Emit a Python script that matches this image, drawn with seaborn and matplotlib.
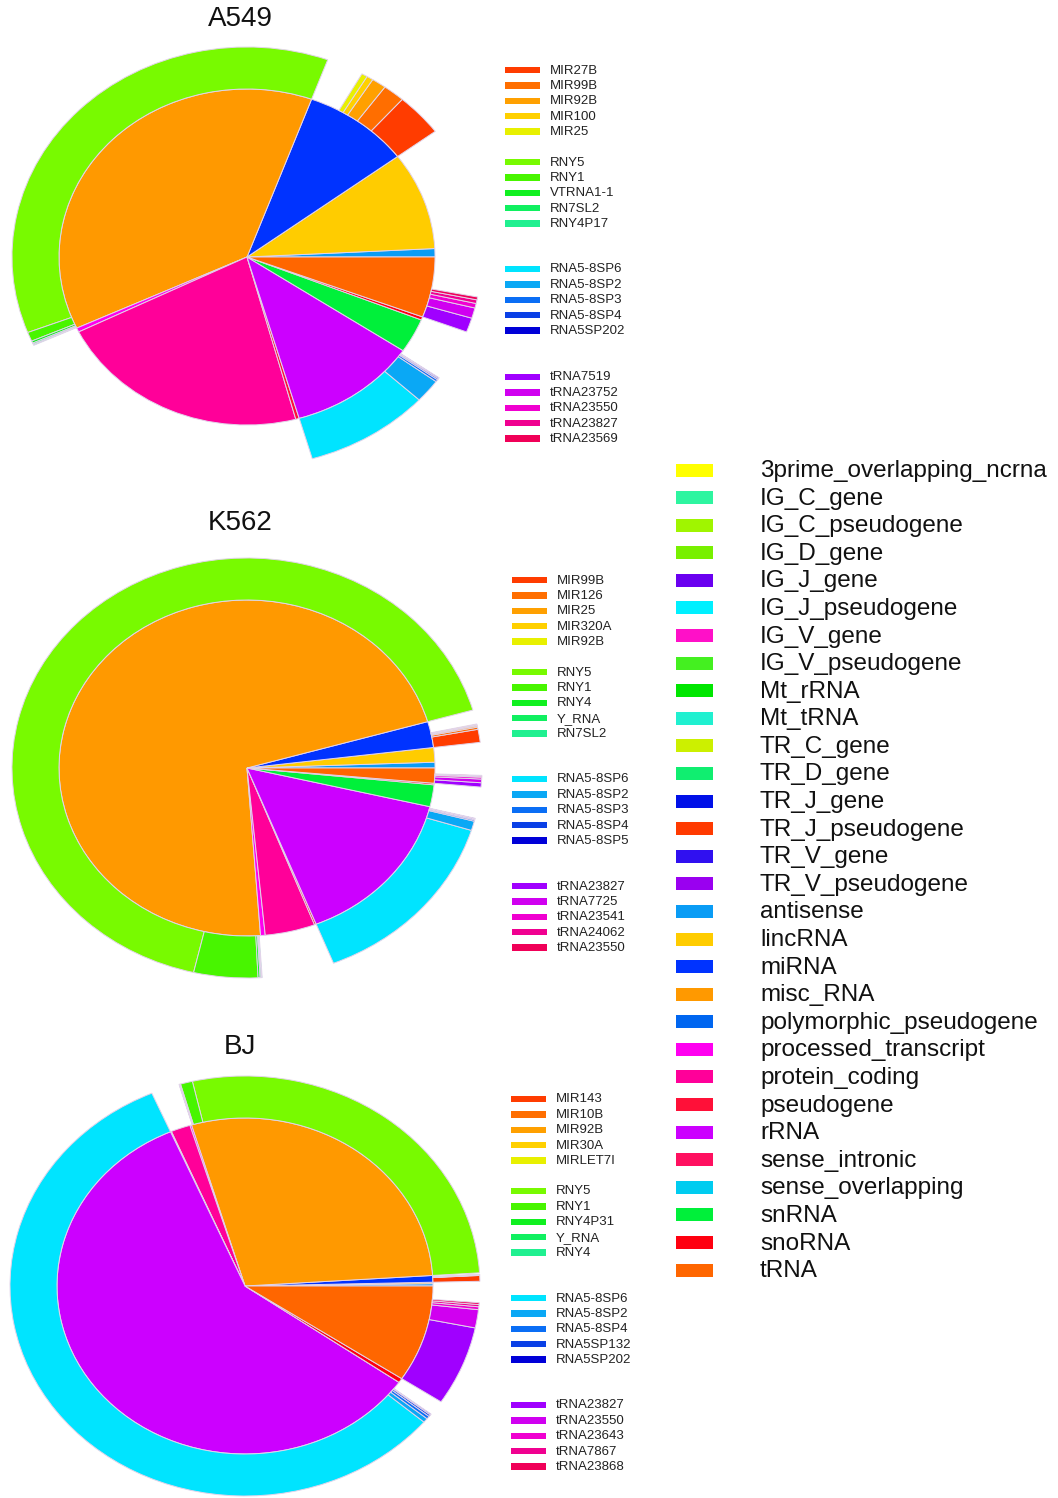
import matplotlib
matplotlib.use("Agg")
import matplotlib.pyplot as plt
from matplotlib.patches import Rectangle
import seaborn as sns

sns.set_theme(style="white")
plt.rcParams["font.family"] = ["Liberation Sans", "DejaVu Sans"]

# ---------------------------------------------------------------- biotypes
biotypes = [
    "3prime_overlapping_ncrna", "IG_C_gene", "IG_C_pseudogene", "IG_D_gene",
    "IG_J_gene", "IG_J_pseudogene", "IG_V_gene", "IG_V_pseudogene",
    "Mt_rRNA", "Mt_tRNA", "TR_C_gene", "TR_D_gene", "TR_J_gene",
    "TR_J_pseudogene", "TR_V_gene", "TR_V_pseudogene", "antisense",
    "lincRNA", "miRNA", "misc_RNA", "polymorphic_pseudogene",
    "processed_transcript", "protein_coding", "pseudogene", "rRNA",
    "sense_intronic", "sense_overlapping", "snRNA", "snoRNA", "tRNA",
]
biotype_colors = [
    "#ffff00", "#2ef5a0", "#a0f500", "#78f000", "#6a00f0", "#00f0ff",
    "#ff10c8", "#44f020", "#00e600", "#20f0d0", "#ccf000", "#10ee70",
    "#0010e8", "#ff3a00", "#3010f0", "#9a00f0", "#0a9cf5", "#ffcc00",
    "#0033ff", "#ff9900", "#0066f0", "#ff00f0", "#ff0099", "#ff1038",
    "#cc00ff", "#ff1060", "#00ccf0", "#00f03a", "#ff0010", "#ff6600",
]
palette = dict(zip(biotypes, sns.color_palette(biotype_colors)))

# biotypes present in the libraries (inner pie, counter-clockwise from 0°)
pie_biotypes = ["antisense", "lincRNA", "miRNA", "misc_RNA",
                "processed_transcript", "protein_coding", "pseudogene",
                "rRNA", "snRNA", "snoRNA", "tRNA"]

# % of reads per biotype
a549_pct = [0.8, 9.4, 9.2, 37.5, 0.4, 21.8, 0.3, 11.1, 3.3, 0.3, 5.8]
k562_pct = [0.55, 1.4, 2.5, 71.7, 0.4, 4.3, 0.15, 15.3, 2.1, 0.15, 1.45]
bj_pct = [0.22, 0.14, 0.64, 28.6, 0.14, 1.67, 0.08, 58.8, 0.0, 0.42, 9.3]

# top-5 transcripts of the expanded biotypes (% of all reads)
a549_mirna = ["MIR27B", "MIR99B", "MIR92B", "MIR100", "MIR25"]
a549_mirna_pct = [3.3, 1.5, 1.0, 0.45, 0.4]
a549_misc = ["RNY5", "RNY1", "VTRNA1-1", "RN7SL2", "RNY4P17"]
a549_misc_pct = [36.4, 0.7, 0.17, 0.1, 0.08]
a549_rrna = ["RNA5-8SP6", "RNA5-8SP2", "RNA5-8SP3", "RNA5-8SP4", "RNA5SP202"]
a549_rrna_pct = [8.6, 1.8, 0.17, 0.1, 0.08]
a549_trna = ["tRNA7519", "tRNA23752", "tRNA23550", "tRNA23827", "tRNA23569"]
a549_trna_pct = [1.1, 0.8, 0.35, 0.28, 0.22]

k562_mirna = ["MIR99B", "MIR126", "MIR25", "MIR320A", "MIR92B"]
k562_mirna_pct = [1.0, 0.17, 0.1, 0.08, 0.06]
k562_misc = ["RNY5", "RNY1", "RNY4", "Y_RNA", "RN7SL2"]
k562_misc_pct = [66.9, 4.4, 0.14, 0.08, 0.06]
k562_rrna = ["RNA5-8SP6", "RNA5-8SP2", "RNA5-8SP3", "RNA5-8SP4", "RNA5-8SP5"]
k562_rrna_pct = [14.2, 0.72, 0.1, 0.08, 0.05]
k562_trna = ["tRNA23827", "tRNA7725", "tRNA23541", "tRNA24062", "tRNA23550"]
k562_trna_pct = [0.33, 0.28, 0.14, 0.08, 0.06]

bj_mirna = ["MIR143", "MIR10B", "MIR92B", "MIR30A", "MIRLET7I"]
bj_mirna_pct = [0.44, 0.03, 0.02, 0.02, 0.01]
bj_misc = ["RNY5", "RNY1", "RNY4P31", "Y_RNA", "RNY4"]
bj_misc_pct = [27.6, 0.83, 0.05, 0.03, 0.02]
bj_rrna = ["RNA5-8SP6", "RNA5-8SP2", "RNA5-8SP4", "RNA5SP132", "RNA5SP202"]
bj_rrna_pct = [57.3, 0.33, 0.22, 0.14, 0.08]
bj_trna = ["tRNA23827", "tRNA23550", "tRNA23643", "tRNA7867", "tRNA23868"]
bj_trna_pct = [6.1, 1.4, 0.22, 0.17, 0.14]

# shades for the expanded biotypes
mirna_shades = ["#ff3c00", "#ff6e00", "#ffa000", "#ffd000", "#e8f000"]
misc_shades = ["#78fa00", "#48f500", "#10f020", "#10f060", "#20f090"]
rrna_shades = ["#00e4ff", "#0aa8f5", "#0a6ef5", "#0a40e6", "#0000d8"]
trna_shades = ["#a000ff", "#d000f0", "#f000d0", "#f00090", "#f00058"]

cell_lines = [
    ("A549", a549_pct,
     [(a549_mirna, a549_mirna_pct), (a549_misc, a549_misc_pct),
      (a549_rrna, a549_rrna_pct), (a549_trna, a549_trna_pct)]),
    ("K562", k562_pct,
     [(k562_mirna, k562_mirna_pct), (k562_misc, k562_misc_pct),
      (k562_rrna, k562_rrna_pct), (k562_trna, k562_trna_pct)]),
    ("BJ", bj_pct,
     [(bj_mirna, bj_mirna_pct), (bj_misc, bj_misc_pct),
      (bj_rrna, bj_rrna_pct), (bj_trna, bj_trna_pct)]),
]
expanded = ["miRNA", "misc_RNA", "rRNA", "tRNA"]
shade_sets = [mirna_shades, misc_shades, rrna_shades, trna_shades]

# ---------------------------------------------------------------- layout
W, H = 1058, 1498
fig = plt.figure(figsize=(W / 100, H / 100), dpi=100)
fig.patch.set_facecolor("white")

overlay = fig.add_axes([0, 0, 1, 1])
overlay.set_xlim(0, W)
overlay.set_ylim(H, 0)
overlay.axis("off")

centres = [(247, 257), (247, 768), (245, 1286)]
title_y = [18.5, 522.5, 1046.5]
legend_rows = [
    [70, 162, 269, 377],
    [580, 672, 779, 886],
    [1099, 1191, 1298, 1405],
]
legend_x = [505, 512, 511]
RX, RY = 235, 210
R_IN = 0.8
edge = dict(edgecolor="#e2d4ea", linewidth=0.7)

for (name, pct, groups), (cx, cy), ty, rows, lx in zip(
        cell_lines, centres, title_y, legend_rows, legend_x):
    ax = fig.add_axes([(cx - RX) / W, (H - cy - RY) / H, 2 * RX / W, 2 * RY / H])

    # inner pie: biotype composition
    ax.pie(pct, radius=R_IN, startangle=0, counterclock=True,
           colors=[palette[b] for b in pie_biotypes],
           wedgeprops=edge)

    # outer ring: top transcripts of the expanded biotypes
    ring_vals, ring_cols, ring_show = [], [], []
    for b, p in zip(pie_biotypes, pct):
        if b in expanded:
            k = expanded.index(b)
            sub_pct = groups[k][1]
            ring_vals += sub_pct
            ring_cols += shade_sets[k]
            ring_show += [True] * len(sub_pct)
            rest = p - sum(sub_pct)
            if rest > 0:
                ring_vals.append(rest)
                ring_cols.append("white")
                ring_show.append(False)
        else:
            ring_vals.append(p)
            ring_cols.append("white")
            ring_show.append(False)
    wedges, _ = ax.pie(ring_vals, radius=1.0, startangle=0, counterclock=True,
                       colors=ring_cols,
                       wedgeprops=dict(width=1.0 - R_IN, **edge))
    for w, s in zip(wedges, ring_show):
        w.set_visible(s)
    ax.set_aspect("auto")
    ax.set_xlim(-1, 1)
    ax.set_ylim(-1, 1)
    ax.axis("off")

    overlay.text(240, ty, name, fontsize=20, ha="center", va="center",
                 color="#111111")

    # transcript legend
    for (labels, _), shades, y0 in zip(groups, shade_sets, rows):
        for i, (lab, col) in enumerate(zip(labels, shades)):
            y = y0 + i * 15.4
            overlay.add_patch(Rectangle((lx, y - 3.2), 35, 6.4, color=col,
                                        lw=0))
            overlay.text(lx + 45, y + 0.5, lab, fontsize=9.5, ha="left",
                         va="center", color="#222222")

# biotype legend
for i, b in enumerate(biotypes):
    y = 470 + i * 27.59
    overlay.add_patch(Rectangle((676, y - 6.5), 37, 13, color=palette[b],
                                lw=0))
    overlay.text(760, y + 1, b, fontsize=17.5, ha="left", va="center",
                 color="#111111")

fig.savefig("out.png", dpi=100, facecolor="white")
